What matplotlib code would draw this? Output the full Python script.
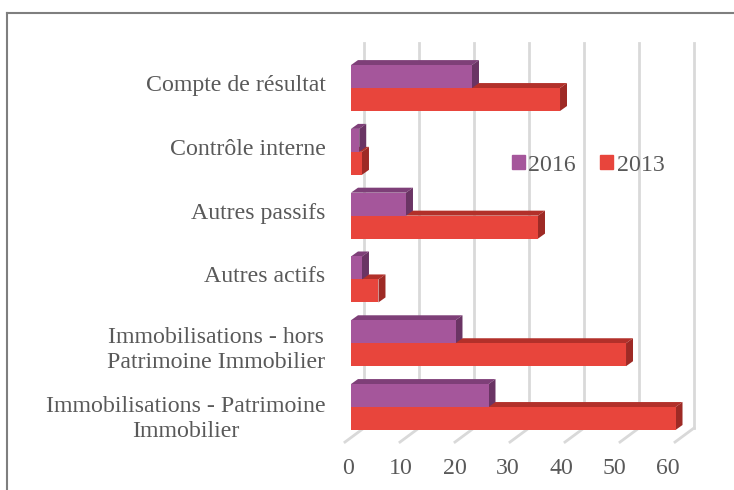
import numpy as np
import matplotlib
matplotlib.use('Agg')
import matplotlib.pyplot as plt
from matplotlib.patches import Polygon, Patch
from matplotlib.lines import Line2D

# categories from bottom to top
categories = ['Immobilisations - Patrimoine\nImmobilier',
              'Immobilisations - hors\nPatrimoine Immobilier',
              'Autres actifs',
              'Autres passifs',
              'Contrôle interne',
              'Compte de résultat']
values_2016 = [25, 19, 2, 10, 1.5, 22]
values_2013 = [59, 50, 5, 34, 2, 38]
x_ticks = [0, 10, 20, 30, 40, 50, 60]

# colours (front, top, side)
purple = ('#A5569B', '#7E3F78', '#6A3464')
red = ('#E8453C', '#B2302A', '#9E2A25')
text_color = '#595959'
grid_color = '#D9D9D9'
fs = 17.2

plt.rcParams['font.family'] = ['Liberation Serif', 'DejaVu Serif']

fig = plt.figure(figsize=(7.34, 4.9), dpi=100)
ax = fig.add_axes([0.4632, 0.0131, 0.4946, 0.9114])
ax.set_xlim(-2, 64)
ax.set_ylim(-1.2, 5.8)

bar_h = 0.36
dx, dy = 1.27, 0.078        # depth of each bar
wall_dx = 2.36              # back wall shift
wall_top, wall_bot = 5.705, -0.329
floor_front_x, floor_front_y = -1.09, -0.549

# back wall gridlines and floor lines
for v in x_ticks:
    ax.plot([wall_dx + v, wall_dx + v], [wall_bot, wall_top], color=grid_color, lw=2, zorder=0)
    ax.plot([wall_dx + v, floor_front_x + v], [wall_bot, floor_front_y], color=grid_color, lw=2, zorder=0)


def bar3d(y0, val, cols, z):
    y1 = y0 + bar_h
    ax.add_patch(Polygon([(0, y1), (val, y1), (val + dx, y1 + dy), (dx, y1 + dy)],
                         closed=True, fc=cols[1], ec='none', zorder=z))
    ax.add_patch(Polygon([(val, y0), (val + dx, y0 + dy), (val + dx, y1 + dy), (val, y1)],
                         closed=True, fc=cols[2], ec='none', zorder=z))
    ax.barh(y0, val, height=bar_h, align='edge', color=cols[0], zorder=z + 0.5)


ypos = np.arange(len(categories))
for i in ypos:
    bar3d(i - bar_h, values_2013[i], red, 2 + i * 4)
    bar3d(i, values_2016[i], purple, 4 + i * 4)

# x tick labels (drawn a bit in front)
for v in x_ticks:
    ax.text(-0.55 + v * 0.969, -0.97, str(v), ha='center', va='center',
            fontsize=fs, color=text_color)

label_shift = [-0.11, -0.03, 0.08, 0.08, 0.08, 0.08]
ax.set_xticks([])
ax.set_yticks(ypos + np.array(label_shift))
ax.set_yticklabels(categories, fontsize=fs, color=text_color, linespacing=1.25)
for lab in ax.get_yticklabels():
    lab.set_multialignment('center')
ax.tick_params(axis='y', length=0, pad=10.5)
for s in ax.spines.values():
    s.set_visible(False)
ax.patch.set_alpha(0)

handles = [Patch(color=purple[0], label='2016'), Patch(color=red[0], label='2013')]
fig.legend(handles=handles, loc='center', bbox_to_anchor=(588 / 734, 1 - 165 / 490),
           ncol=2, frameon=False, fontsize=fs, handlelength=0.55, handleheight=0.55,
           handletextpad=0.15, columnspacing=1.0, labelcolor=text_color)

# chart frame (left and top edges)
fx, fy = 7 / 734, 1 - 13 / 490
fig.add_artist(Line2D([fx, fx], [0, fy], color='#7F7F7F', lw=1.5))
fig.add_artist(Line2D([fx, 1], [fy, fy], color='#7F7F7F', lw=1.5))

fig.savefig('out.png', dpi=100)
